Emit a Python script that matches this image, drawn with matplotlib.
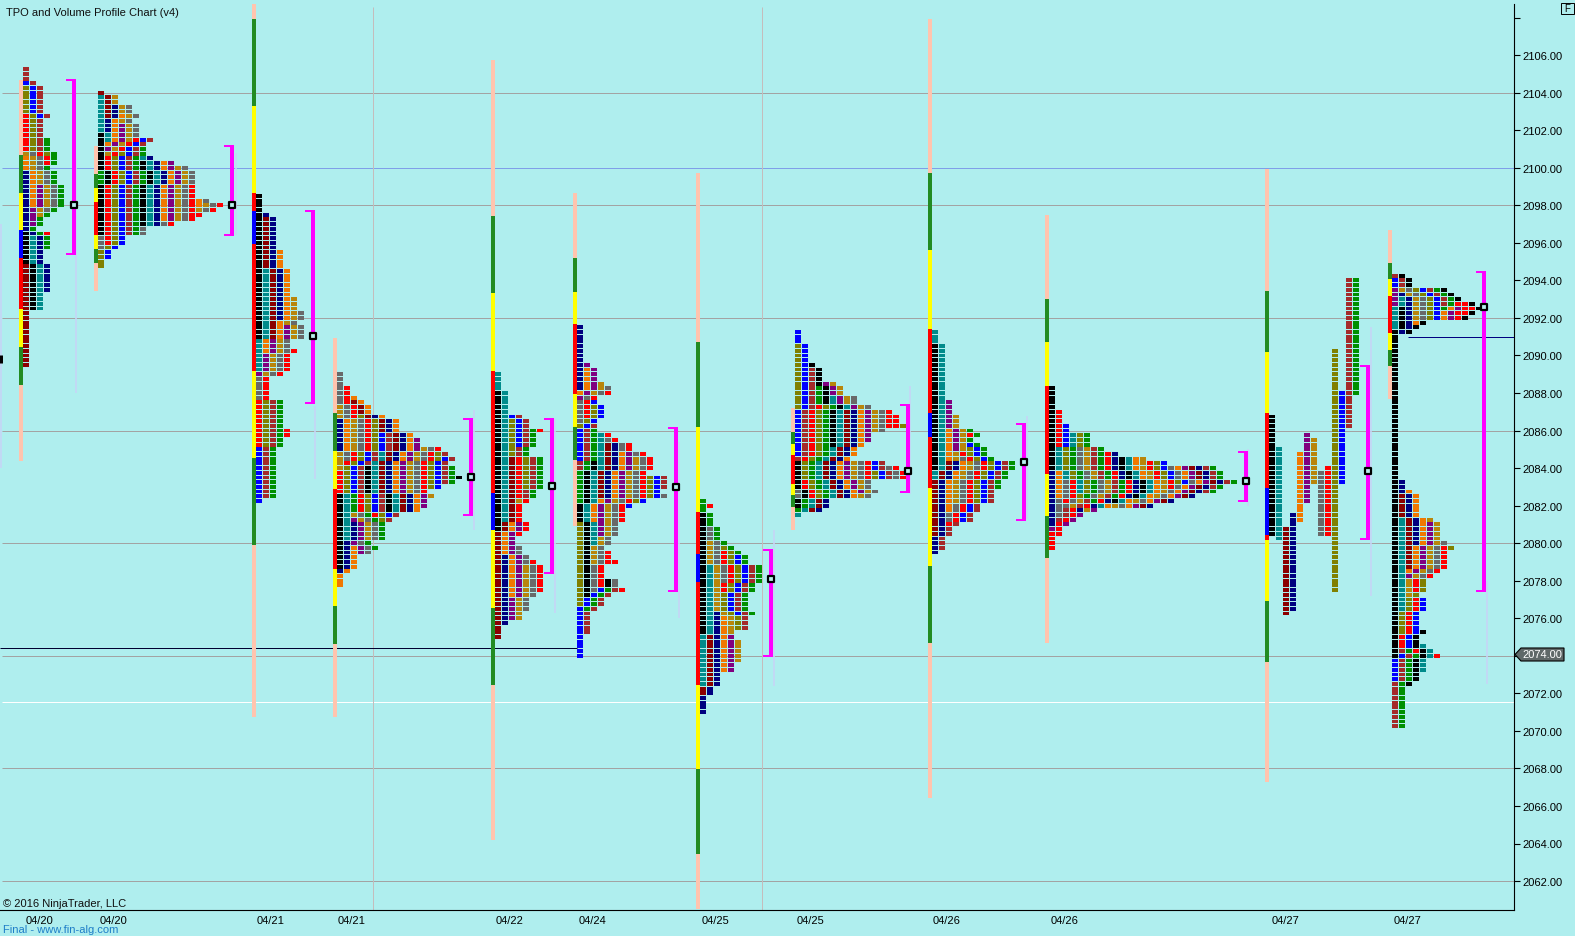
import numpy as np
import matplotlib
matplotlib.use("Agg")
import matplotlib.pyplot as plt
from matplotlib.patches import Polygon, Rectangle
from matplotlib.transforms import IdentityTransform

plt.rcParams['font.family'] = ['Liberation Sans', 'DejaVu Sans']

W, H = 1575, 937
BG = '#AFEEEE'
COL = dict(k='#000000', t='#008B8B', m='#8B0000', n='#000080', o='#F07800', p='#800080',
           g='#B8860B', y='#696969', r='#FF0000', l='#808000', u='#0000FF', b='#A52A2A', e='#009000')

# Periods of each session: (colour key, high price, low price), in time order
P1 = [('m',2094.75,2089.5),('k',2096.5,2092.5),('t',2096.25,2092.5),('n',2099.75,2093.5),('o',2100.5,2098),
      ('p',2099,2097),('g',2100.75,2097.5),('y',2100.75,2097.75),('r',2102.75,2100.25),('l',2104.25,2100.75),
      ('u',2104.5,2102.75),('b',2105.25,2101),('e',2101.5,2095.75),('r',2096.5,2096.5)]
P2 = [('e',2099.75,2099.25),('k',2101.75,2096.5),('t',2103.75,2101.5),('m',2104,2102.75),('n',2103.25,2102),
      ('o',2102.75,2101.25),('p',2102.25,2101),('g',2103.75,2100.75),('y',2103.25,2101.75),('y',2096.25,2095.75),
      ('r',2101.5,2096),('l',2100.75,2094.75),('u',2101.5,2095.25),('b',2101.5,2096.5),('e',2101,2096.5),
      ('k',2100.25,2097),('t',2100.5,2097),('n',2100.5,2097),('o',2100.25,2097.25),('p',2100.25,2097.25),
      ('g',2100,2097.25),('y',2100,2096.5),('r',2099,2097),('o',2098.25,2098),('g',2098,2097.75),
      ('y',2098.25,2097.75),('r',2098,2097.5)]
P3 = [('k',2098.5,2091),('t',2094.5,2089.25),('m',2097.25,2091),('n',2097.5,2092),('o',2095.5,2090.25),
      ('p',2091.5,2089),('g',2093,2089),('y',2092.25,2087.75),('r',2090.25,2085.25),('l',2087.5,2085.25),
      ('u',2085,2082.25),('b',2087.5,2082.5),('e',2087.5,2082.5),('r',2086,2085.75)]
P4 = [('k',2082.5,2078.75),('t',2082.5,2080.25),('n',2086.5,2085),('n',2081,2078.5),('o',2086.5,2085),
      ('o',2079.75,2077.75),('p',2081.25,2079.5),('g',2087.25,2084),('g',2081.5,2080.25),('y',2089,2084.5),
      ('y',2081.5,2079.5),('r',2088.25,2084.25),('e',2082.5,2079.75),('r',2083.75,2081.5),('l',2086.75,2081.25),
      ('u',2085.75,2081.5),('b',2085.75,2081.25),('k',2084,2081.75),('t',2084.75,2081.75),('m',2087.5,2081.75),
      ('n',2086.75,2081.75),('o',2087.75,2081.75),('p',2085.5,2082),('g',2085,2082.5),('y',2085,2082.75),
      ('r',2085,2082.75),('l',2084.75,2083),('u',2084.5,2083),('b',2084.75,2083.25),('e',2084,2083.25),('k',2083.5,2083.5)]
P5 = [('k',2088,2080.75),('t',2089,2081.25),('m',2084.5,2075),('n',2079.25,2075.75),('o',2081,2077.25),
      ('p',2081,2076),('g',2082.25,2082.25),('g',2078.75,2076),('y',2079.75,2076.5),('r',2084.5,2080.5),
      ('r',2079,2077.5),('l',2086.5,2083),('u',2086.75,2085.25),('b',2086.75,2082.5),('e',2086,2082.5),('r',2086,2086)]
P6 = [('n',2091.5,2088.25),('o',2089.25,2088),('p',2089.5,2087.75),('g',2088.5,2088),('y',2088.25,2086.5),
      ('r',2088,2086.75),('l',2087.25,2086.25),('u',2087.5,2084.5),('b',2086.25,2084),('e',2086,2082.25),
      ('l',2081,2076.75),('k',2081,2077.75),('k',2084.25,2081.25),('t',2085.75,2080),('m',2085.25,2082.5),
      ('n',2085.25,2082.5),('o',2084.75,2081.25),('p',2084.75,2080.5),('g',2084.5,2079),('y',2085.5,2077.75),
      ('r',2085.75,2081.25),('r',2079.5,2077.75),('r',2079,2079),('l',2083.5,2082.25),('u',2083.5,2082),
      ('b',2083.5,2083),('y',2082.5,2082.5),('k',2078,2077.25),('y',2078,2077.5),('u',2077.5,2074),
      ('e',2077.5,2076.5),('b',2077.5,2075.25),('r',2077.5,2077.5)]
P7 = [('k',2081.5,2075.25),('t',2078.75,2072.5),('m',2075,2072),('n',2076.25,2071),
      ('o',2076,2073.25),('p',2075,2073.25),('g',2080,2075.25),('g',2074.75,2073.75),('y',2080.75,2078),
      ('r',2079.5,2077.5),('l',2079.75,2075.5),('u',2079.25,2076.25),('b',2078.75,2075.5),
      ('e',2082.25,2076.25),('r',2082,2082)]
P8 = [('l',2090.5,2087.25),('u',2091.25,2084.75),('b',2089.25,2084.5),('r',2087.25,2084.5),('l',2087.25,2084.5),
      ('e',2088.25,2084.5),('k',2089.5,2085.25),('t',2087.75,2084.5),('m',2087,2084.5),('n',2087,2084.5),
      ('o',2087,2084.5),('p',2088.5,2085.5),('g',2088.5,2086),('y',2087.75,2086),('r',2087,2086.25),
      ('r',2086.75,2086.25),('l',2086.25,2086.25),
      ('y',2082.75,2082.5),('k',2084.25,2082),('r',2083.25,2082.5),('l',2084.25,2082.5),('e',2084.25,2081.75),
      ('t',2084.25,2081.5),('m',2084.25,2081.75),('n',2084.25,2081.75),('o',2084.25,2082.5),('p',2084.25,2082.75),
      ('g',2084.25,2082.5),('y',2084.25,2082.5),('r',2084.25,2083.5),('l',2083.75,2083.5),('u',2084.25,2083.5),
      ('b',2084.25,2083.5),('y',2084,2083.5),('r',2084,2083.5)]
P9 = [('k',2090.5,2084),('t',2091.25,2083.5),('m',2084.25,2080.5),('n',2084.25,2079.5),('o',2086,2081.75),
      ('p',2087.5,2085),('g',2086.75,2082.25),('y',2084.5,2081.25),('r',2085.75,2085.75),('r',2084.75,2081),
      ('l',2085,2082.25),('u',2085.25,2081.25),('b',2084.25,2079.75),('e',2086,2083)]
P10 = [('k',2088.25,2084),('n',2083.75,2081),('o',2083.75,2082.5),('y',2083.25,2081.5),('r',2083.25,2082.25),
       ('p',2080.75,2080.75),('r',2080.5,2079.75),('r',2087,2085.25),('u',2086.25,2085.25),('t',2085.75,2082.75),
       ('l',2085.75,2082.5),('e',2085.75,2082.5),('y',2085,2082),('g',2085,2082),('b',2085,2081.25),('e',2085,2082.25),
       ('r',2084.75,2080.5),('n',2084.75,2081.75),('k',2084.5,2082.25),('t',2084.5,2082),('o',2084.5,2082),
       ('g',2084.5,2081.75),('r',2084.25,2083),('l',2084.25,2083.25),('u',2084.25,2083.25),('y',2084,2082),
       ('o',2084,2082),('p',2084,2081),('m',2084,2082),('n',2084,2082),('b',2084,2082.75),('e',2084,2082.75)]
# Session eleven keeps every period in its own column
P11 = [('k',2086.75,2080.5),('t',2085,2080.25),('m',2080.75,2076.25),('n',2081.5,2076.5),('o',2084.75,2081.25),
       ('p',2085.75,2082.25),('g',2085.5,2083.25),('y',2083.75,2080.5),('r',2084,2080.5),('l',2090.25,2077.5),
       ('u',2088,2083.25),('b',2094,2086.25),('e',2094,2088)]
P12 = [('p',2093.5,2092.75),('t',2093,2091.5),('k',2092.5,2074),('n',2093.25,2091.25),('g',2093.5,2092),
       ('y',2093.5,2092),('l',2093.5,2092),('u',2094,2092),('b',2094.25,2092.75),('e',2093.5,2092.5),
       ('o',2092.5,2091.75),('p',2092.5,2092),('r',2092.75,2092),('r',2092.75,2092.25),('k',2094.25,2092),('k',2091.75,2091.25),
       ('u',2074,2072.75),('b',2074.25,2070.25),('e',2074.25,2070.25),
       ('t',2081.25,2076.5),('m',2082.5,2078.75),('n',2083.25,2080),('o',2082.75,2078.5),('p',2081,2078.25),
       ('g',2081.25,2077.25),('y',2080,2078.25),('r',2079.75,2077.5),('l',2079.75,2079.75),('l',2078,2075.25),
       ('r',2077,2074.25),('u',2077,2074.5),('k',2075.25,2072.5),('t',2074.5,2073.25),('r',2074,2074)]
SESSIONS = [P1, P2, P3, P4, P5, P6, P7, P8, P9, P10, P11, P12]
FIXED_COLUMNS = [False]*10 + [True, False]
# time-axis position of each session's first column
SESSION_X = [23, 98, 256, 337, 495, 577, 700, 795, 932, 1049, 1269, 1392]

# Deviation band edges of each session (prices, top to bottom) and band colours
BAND_EDGES = [
 [2104.67,2100.68,2098.65,2096.7,2095.2,2092.45,2090.45,2088.45,2084.4],
 [2101.16,2099.67,2098.92,2098.17,2096.4,2095.67,2094.92,2093.43],
 [2108.72,2107.93,2103.31,2098.65,2097.71,2095.94,2089.16,2084.53,2079.89,2070.74],
 [2090.92,2086.92,2084.9,2082.9,2078.65,2076.66,2074.64,2070.74],
 [2105.73,2097.43,2093.31,2089.19,2082.67,2080.7,2076.55,2072.45,2064.2],
 [2098.65,2095.2,2093.4,2091.68,2087.95,2086.18,2084.43,2080.9],
 [2099.72,2090.7,2086.18,2081.66,2079.43,2077.93,2072.45,2067.95,2063.45,2060.5],
 [2087.2,2085.92,2085.28,2084.68,2083.15,2082.55,2081.95,2080.72],
 [2107.93,2099.7,2095.6,2091.4,2086.95,2085.67,2082.95,2078.76,2074.68,2066.45],
 [2097.5,2093,2090.7,2088.4,2083.69,2081.45,2079.2,2074.68],
 [2099.94,2093.45,2090.18,2086.95,2082.96,2080.43,2080.17,2076.92,2073.69,2067.25],
 [2096.68,2094.93,2094.07,2093.16,2091.2,2090.3,2089.44,2087.68],
]
BAND_KEYS = ['PEYurYEP','PEYrYEP','PEYrurYEP','PEYrYEP','PEYruYEP','PEYrYEP',
             'PEYrurYEP','PEYrYEP','PEYrurYEP','PEYrYEP','PEYrurYEP','PEYrYEP']
BAND_COL = dict(P='#FFC4AE', E='#228B22', Y='#FFFF00', r='#FF0000', u='#0000FF')

# Value-area brackets and point of control
BRACKET_X = [71.5,230,311,469,550,674,769,906,1022,1244,1366,1482]
VA_HIGH = [2104.73,2101.2,2097.75,2086.67,2086.67,2086.2,2079.7,2087.4,2086.4,2084.92,2089.5,2094.5]
VA_LOW = [2095.37,2096.38,2087.4,2081.43,2078.38,2077.4,2073.95,2082.7,2081.2,2082.2,2080.17,2077.4]
POC = [2098,2098,2091.06,2083.55,2083.03,2083,2078.1,2083.85,2084.3,2083.3,2083.85,2092.6]

# Faint volume traces beside the brackets
VOL_X = [1,75.5,236,315,473.5,555,678.5,774,910,1026.5,1248,1370.5,1486.5]
VOL_HIGH = [2097,2100.5,2100.8,2087.3,2087.1,2086.6,2085.4,2080.7,2088.4,2086.8,2085,2091.5,2078]
VOL_LOW = [2084,2088,2096.4,2083.4,2080.7,2076.3,2076,2072.4,2082.6,2081.3,2082,2077.2,2072.5]

GRID_GRAY = [2104,2098,2092,2086,2080,2074,2068,2062]
GRID_BLUE = [2100]
WHITE_LINE = 2071.55
DATE_X = [39,113,271,352,510,592.5,715,810.5,947,1065,1285,1407]
DATE_LAB = ['04/20','04/20','04/21','04/21','04/22','04/24','04/25','04/25','04/26','04/26','04/27','04/27']
Y_TICKS = list(range(2062, 2108, 2))
CELL_W, CELL_STEP = 6, 7

PX = 0.72
fig = plt.figure(figsize=(W/100, H/100), dpi=100, facecolor=BG)
AX_B, AX_R = 910.7, 1514
ax = fig.add_axes([0, 1-AX_B/H, AX_R/W, AX_B/H], facecolor=BG)
ax.set_xlim(0, AX_R)
PX_PER_PT = 18.77
y_top = 2104 + 93.7/PX_PER_PT
y_bot = 2104 - (AX_B-93.7)/PX_PER_PT
ax.set_ylim(y_bot, y_top)

for s in ['top', 'left']:
    ax.spines[s].set_visible(False)
ax.spines['bottom'].set_linewidth(0.8)
ax.spines['right'].set_linewidth(0.8)
ax.spines['right'].set_bounds(y_bot, y_top-5/PX_PER_PT)
ax.yaxis.tick_right()
ax.set_yticks(Y_TICKS + [2108])
ax.set_yticklabels([f'{v:.2f}' for v in Y_TICKS] + [''], fontsize=8)
ax.tick_params(axis='y', length=4.5, width=0.8, pad=1.5)
ax.set_xticks(DATE_X)
ax.set_xticklabels(DATE_LAB, fontsize=8)
ax.tick_params(axis='x', length=0, pad=3.5)

# reference lines
ax.hlines(GRID_GRAY, 2, AX_R, color='#A3A3A3', lw=1*PX, zorder=1, snap=True)
ax.hlines(GRID_BLUE, 2, AX_R, color='#7F9FE8', lw=1*PX, zorder=1, snap=True)
ax.hlines(WHITE_LINE, 2, AX_R, color='#FFFFFF', lw=1*PX, zorder=1, snap=True)
ax.vlines([372.5, 762], y_bot, y_top-8/PX_PER_PT, color='#C4BCBC', lw=1*PX, zorder=1, snap=True)
ax.hlines(2074.43, 0, 577, color='#000030', lw=1*PX, zorder=2, snap=True)
ax.hlines(2090.97, 1408, AX_R, color='#000080', lw=1*PX, zorder=2, snap=True)
ax.vlines(VOL_X, VOL_LOW, VOL_HIGH, color='#C6D4F6', lw=1.6*PX, zorder=1)
ax.vlines(1, 2089.6, 2090.0, color='black', lw=3*PX, zorder=3)

# deviation bands
for x0, edges, keys in zip(SESSION_X, BAND_EDGES, BAND_KEYS):
    tops, bots = np.array(edges[:-1]), np.array(edges[1:])
    ax.bar([x0-4]*len(tops), tops-bots, bottom=bots, width=4, align='edge',
           color=[BAND_COL[c] for c in keys], lw=0, zorder=3, antialiased=False)

# TPO cells
cx, cy, cc = [], [], []
for x0, periods, fixed in zip(SESSION_X, SESSIONS, FIXED_COLUMNS):
    used = {}
    for i, (key, hi, lo) in enumerate(periods):
        n_rows = int(round((hi-lo)/0.25))+1
        for j in range(n_rows):
            price = hi - j*0.25
            c = i if fixed else used.get(price, 0)
            used[price] = c+1
            cx.append(x0 + c*CELL_STEP)
            cy.append(price)
            cc.append(COL[key])
cy = np.array(cy)
ax.bar(cx, 0.205*np.ones(len(cy)), bottom=cy-0.1025, width=CELL_W, align='edge',
       color=cc, lw=0, zorder=4, antialiased=False)

# brackets and POC squares
MAG = '#FF00FF'
for x, hi, lo, poc in zip(BRACKET_X, VA_HIGH, VA_LOW, POC):
    ax.vlines(x+2, lo, hi, color=MAG, lw=4*PX, zorder=5)
    ax.hlines([hi-0.05, lo+0.05], x-6, x+4, color=MAG, lw=2*PX, zorder=5)
    ax.scatter([x+2], [poc], marker='s', s=16, facecolor='#B8F0EE', edgecolor='black', linewidth=2.2*PX, zorder=6)

# texts
ax.text(6, y_top-13/PX_PER_PT, 'TPO and Volume Profile Chart (v4)', fontsize=8, va='center', color='#101010')
ax.text(3, y_bot+6.5/PX_PER_PT, '\u00a9 2016 NinjaTrader, LLC', fontsize=8, va='center', color='#101010')
fig.text(3/W, 1-930/H, 'Final - www.fin-alg.com', fontsize=8, va='center', color='#1E7EC8')

# price tag and F box
tag = [(1515,H-655.5),(1521,H-649),(1564,H-649),(1564,H-662),(1521,H-662)]
fig.add_artist(Polygon(tag, closed=True, transform=IdentityTransform(), facecolor='#5F6868', edgecolor='black', lw=0.8))
fig.text(1542.5/W, 1-655.5/H, '2074.00', fontsize=8, color='white', ha='center', va='center')
fig.add_artist(Rectangle((1561,H-15), 13, 11, transform=IdentityTransform(), facecolor=BG, edgecolor='black', lw=0.7))
fig.text(1567.5/W, 1-9.5/H, 'F', fontsize=7, color='black', ha='center', va='center')

fig.savefig('out.png', dpi=100, facecolor=BG)
